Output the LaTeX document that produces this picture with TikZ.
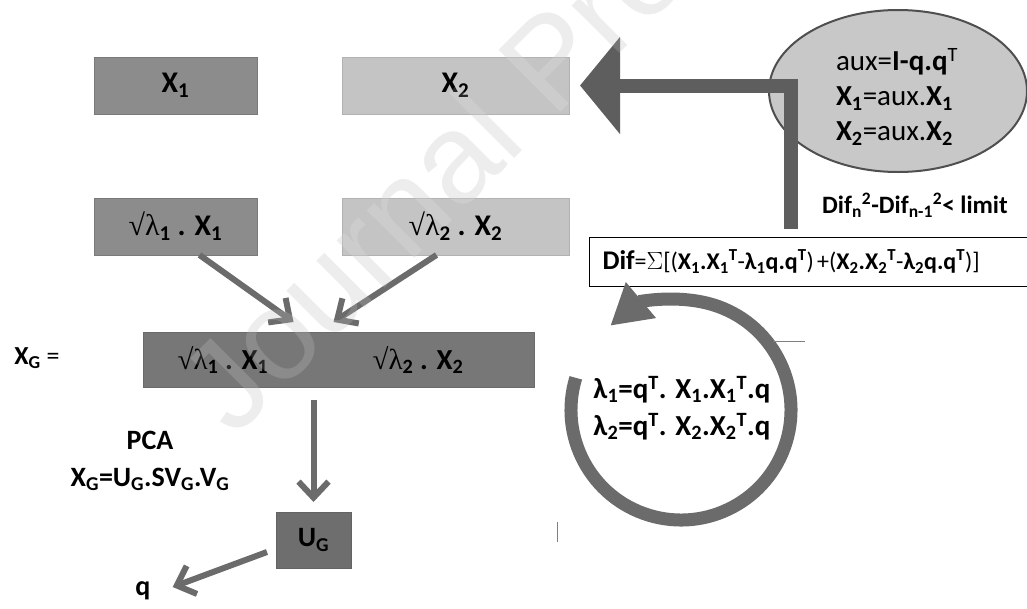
\documentclass[tikz,border=0pt]{standalone}
\usepackage{fontspec}
\setmainfont{Carlito}
\newfontfamily\wmfont{Liberation Sans}
\newfontfamily\sqfont{Liberation Serif}
\usetikzlibrary{arrows.meta,shapes.geometric,calc}
\definecolor{boxdark}{HTML}{8C8C8C}
\definecolor{boxdarkline}{HTML}{7A7A7A}
\definecolor{boxlight}{HTML}{C4C4C4}
\definecolor{boxlightline}{HTML}{B2B2B2}
\definecolor{bardark}{HTML}{777777}
\definecolor{ugdark}{HTML}{6E6E6E}
\definecolor{arrowgray}{HTML}{6B6B6B}
\definecolor{bigarrowgray}{HTML}{5E5E5E}
\definecolor{ellfill}{HTML}{C8C8C8}
\definecolor{ellline}{HTML}{4F4F4F}
\definecolor{wmgray}{HTML}{EAEAEA}
\newcommand\mysub[1]{\textsubscript{#1}}
\newcommand\mysup[1]{\textsuperscript{#1}}
\newcommand\sqlam{{\sqfont √λ}}
\newcommand\wmtext{Journal Pre-proof}
\begin{document}
\begin{tikzpicture}[x=1pt,y=-1pt,
  txt/.style={font=\fontsize{24}{29}\selectfont, inner sep=0pt},
  boxbase/.style={rectangle, inner sep=0pt, outer sep=0pt, line width=1pt, font=\fontsize{30}{34}\selectfont},
  darkbox/.style={boxbase, fill=boxdark, draw=boxdarkline, minimum width=163pt, minimum height=57pt},
  lightbox/.style={boxbase, fill=boxlight, draw=boxlightline, minimum width=227pt, minimum height=57pt},
  barbox/.style={boxbase, fill=bardark, draw=bardark!90!black, minimum width=391pt, minimum height=55pt},
  ugbox/.style={boxbase, fill=ugdark, draw=ugdark!90!black, minimum width=75pt, minimum height=56pt, font=\fontsize{28}{32}\selectfont},
  thinarrow/.style={draw=arrowgray, line width=6pt, -{Straight Barb[length=16pt,width=30pt]}},
  bigarrow/.style={draw=bigarrowgray, line width=14pt, line join=miter, -{Triangle[length=40pt,width=95pt]}},
  circarrow/.style={draw=arrowgray, line width=13pt, -{Triangle[length=40pt,width=44pt]}},
  difbox/.style={rectangle, draw=black, line width=1pt, fill=white, anchor=west, minimum height=49pt, text width=425pt, inner xsep=13pt, inner ysep=0pt, align=left},
  wmstyle/.style={font=\wmfont\fontsize{127}{130}\selectfont, text=wmgray, inner sep=0pt, anchor=base west, rotate=45}
]
\useasboundingbox (0,0) rectangle (1027,608);
\fill[white] (0,0) rectangle (1027,608);

% watermark (behind)
\node[wmstyle] (wm) at (234,439) {\wmtext};

% top boxes
\node[darkbox] (x1) at (175.5,85.5) {\textbf{X\mysub{1}}};
\node[lightbox] (x2) at (455.5,85.5) {\textbf{X\mysub{2}}};
\node[darkbox] (s1) at (175.5,226.5) {\sqlam\textbf{\mysub{1} . X\mysub{1}}};
\node[lightbox] (s2) at (455.5,226.5) {\sqlam\textbf{\mysub{2} . X\mysub{2}}};

% combined bar
\node[barbox] (bar) at (338.5,359.5) {};
\node[txt, font=\fontsize{29}{33}\selectfont] (b1) at (223,360) {\sqlam\textbf{\mysub{1} . X\mysub{1}}};
\node[txt, font=\fontsize{29}{33}\selectfont] (b2) at (418,360) {\sqlam\textbf{\mysub{2} . X\mysub{2}}};
\node[txt, font=\fontsize{26}{30}\selectfont] (xg) at (37,358) {\textbf{X\mysub{G}} =};

% PCA
\node[txt, align=center, font=\fontsize{28}{37}\selectfont] (pca) at (150,461) {\textbf{PCA}\\\textbf{X\mysub{G}=U\mysub{G}.SV\mysub{G}.V\mysub{G}}};
\node[ugbox] (ug) at (313.5,540) {\textbf{U\mysub{G}}};
\node[txt, font=\fontsize{28}{32}\selectfont] (q) at (143,591) {\textbf{q}};

% ellipse
\node[ellipse, draw=ellline, fill=ellfill, line width=2pt, minimum width=258pt, minimum height=162pt, inner sep=0pt] (ell) at (898,91) {};
\node[txt, align=left, font=\fontsize{29}{35}\selectfont] (elltext) at (897,97) {aux=\textbf{I-q.q}\mysup{T}\\\textbf{X\mysub{1}}=aux.\textbf{X\mysub{1}}\\\textbf{X\mysub{2}}=aux.\textbf{X\mysub{2}}};

\node[txt, font=\fontsize{25}{30}\selectfont] (lim) at (915,205) {\textbf{Dif\mysub{n}\mysup{2}-Dif\mysub{n-1}\mysup{2}< limit}};

% Dif box
\node[difbox] (dif) at (589,261.5) {\fontsize{27}{30}\selectfont\textbf{Dif}{\fontsize{24}{26}\selectfont =$\Sigma$[(\textbf{X\mysub{1}.X\mysub{1}\mysup{T}}-\textbf{λ\mysub{1}q.q\mysup{T}}) +(\textbf{X\mysub{2}.X\mysub{2}\mysup{T}}-\textbf{λ\mysub{2}q.q\mysup{T}})]}};

% lambda text and loop
\node[txt, align=left, font=\fontsize{29}{37}\selectfont] (lam) at (682,408) {\textbf{λ\mysub{1}=q\mysup{T}. X\mysub{1}.X\mysub{1}\mysup{T}.q}\\\textbf{λ\mysub{2}=q\mysup{T}. X\mysub{2}.X\mysub{2}\mysup{T}.q}};
\coordinate (cc) at ($(lam.center)+(-1,2)$);
\draw[circarrow] ([shift={(163:110pt)}]cc) arc[start angle=163, end angle=490, radius=110pt];

% connectors
\draw[thinarrow] ([xshift=24pt]s1.south) -- ([xshift=-45pt,yshift=10pt]bar.north);
\draw[thinarrow] ([xshift=-19pt]s2.south) -- ([xshift=-5pt,yshift=10pt]bar.north);
\draw[thinarrow] ($(bar.south -| ug.north)+(0,13)$) -- ($(ug.north)+(0,-10)$);
\draw[thinarrow] ($(ug.west)+(-9,12)$) -- ($(q.east)+(22,-4)$);
\coordinate (elbow) at ($(dif.north west)+(202,-8)$);
\draw[bigarrow] (elbow) |- ($(x2.east)+(11,0)$);

% small stray marks
\draw[draw=gray, line width=1pt] (773,341) -- (805,341);
\draw[draw=gray, line width=1pt] (557,522) -- (557,542);

% faint overlay of the watermark on the boxes
\node[wmstyle, text=white, text opacity=0.15] (wmover) at (234,439) {\wmtext};
\end{tikzpicture}
\end{document}
